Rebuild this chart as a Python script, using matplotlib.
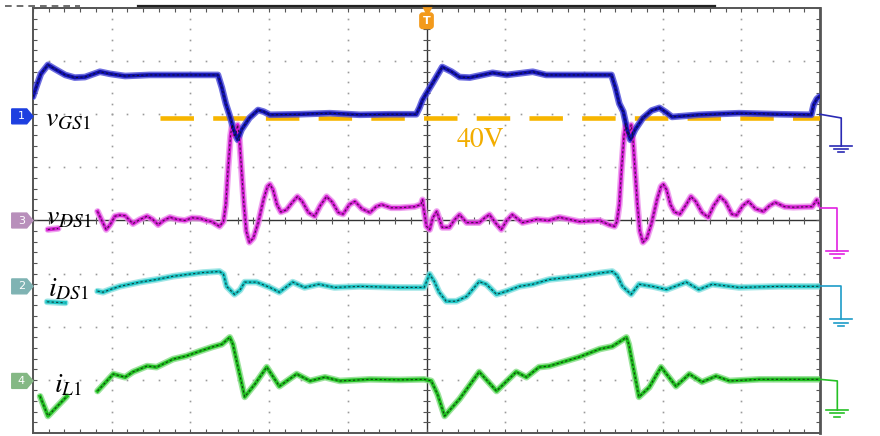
import numpy as np
import matplotlib
matplotlib.use("Agg")
import matplotlib.pyplot as plt
from matplotlib.patches import Polygon
from matplotlib.collections import LineCollection
from matplotlib.lines import Line2D

plt.rcParams['mathtext.fontset'] = 'stix'

# ---------------- scope traces (time in div, amplitude in div) ----------------
vgs_t = [0.00, 0.05, 0.10, 0.19, 0.28, 0.41, 0.53, 0.66, 0.85, 0.98, 1.17, 1.48, 1.87, 2.35,
         2.40, 2.45, 2.50, 2.55, 2.60, 2.65, 2.75, 2.86, 2.93, 3.01, 3.39, 3.77, 4.15, 4.53, 4.87,
         4.91, 4.95, 5.01, 5.08, 5.20, 5.32, 5.42, 5.55, 5.84, 6.02, 6.35, 6.52, 6.94, 7.35,
         7.40, 7.45, 7.50, 7.55, 7.59, 7.65, 7.75, 7.86, 7.96, 8.05, 8.12, 8.46, 8.97, 9.48, 9.89,
         9.92, 9.96, 9.99]
vgs_v = [2.33, 2.55, 2.76, 2.93, 2.85, 2.74, 2.69, 2.70, 2.80, 2.76, 2.72, 2.74, 2.74, 2.74,
         2.50, 2.20, 1.97, 1.71, 1.52, 1.71, 1.93, 2.08, 2.05, 1.99, 2.00, 2.02, 1.99, 2.00, 2.00,
         2.12, 2.27, 2.42, 2.59, 2.89, 2.80, 2.70, 2.69, 2.78, 2.74, 2.80, 2.74, 2.74, 2.74,
         2.50, 2.20, 2.05, 1.71, 1.52, 1.71, 1.93, 2.07, 2.12, 2.03, 1.95, 1.99, 2.02, 2.00, 1.99,
         2.18, 2.29, 2.33]

vds_t = [0.82, 0.88, 0.93, 0.98, 1.04, 1.10, 1.17, 1.27, 1.36, 1.45, 1.52, 1.59, 1.66, 1.74,
         1.83, 1.93, 2.02, 2.12, 2.20, 2.27, 2.37, 2.42,
         2.45, 2.48, 2.51, 2.53, 2.555, 2.58, 2.60, 2.62, 2.65, 2.68, 2.71, 2.75,
         2.80, 2.86, 2.93, 2.98, 3.01, 3.05, 3.10, 3.15, 3.22, 3.30, 3.36, 3.42, 3.50, 3.58,
         3.65, 3.73, 3.80, 3.88, 3.94, 4.02, 4.09, 4.18, 4.28, 4.36, 4.43, 4.55, 4.66, 4.85,
         4.93, 4.95, 4.97, 5.00, 5.04, 5.08, 5.13, 5.17, 5.20, 5.29, 5.36, 5.42, 5.51, 5.67,
         5.74, 5.80, 5.88, 5.95, 6.02, 6.09, 6.22, 6.40, 6.55, 6.69, 6.94, 7.20, 7.32, 7.39, 7.42,
         7.45, 7.48, 7.51, 7.53, 7.555, 7.58, 7.60, 7.62, 7.65, 7.68, 7.71, 7.75,
         7.80, 7.86, 7.93, 7.98, 8.01, 8.05, 8.10, 8.15, 8.22, 8.30, 8.36, 8.42, 8.50, 8.58,
         8.65, 8.73, 8.80, 8.88, 8.94, 9.02, 9.09, 9.18, 9.28, 9.36, 9.43, 9.55, 9.66, 9.85,
         9.90, 9.96, 9.99]
vds_v = [0.17, -0.02, -0.17, -0.08, 0.08, 0.10, 0.09, -0.06, 0.02, 0.08, 0.02, -0.08, 0.00, 0.06,
         0.02, 0.00, 0.05, 0.04, 0.00, -0.02, -0.11, -0.02,
         0.30, 1.00, 1.60, 1.80, 1.60, 1.65, 1.80, 1.60, 0.96, 0.30, -0.20, -0.41,
         -0.33, -0.05, 0.40, 0.64, 0.68, 0.58, 0.30, 0.16, 0.20, 0.35, 0.45, 0.36, 0.15, 0.08,
         0.28, 0.45, 0.35, 0.15, 0.12, 0.30, 0.36, 0.22, 0.15, 0.26, 0.30, 0.24, 0.24, 0.26,
         0.30, 0.39, 0.17, -0.11, -0.17, 0.05, 0.17, 0.00, -0.13, -0.13, 0.02, 0.11, -0.04, -0.04,
         0.05, 0.11, -0.05, -0.17, 0.00, 0.11, -0.04, 0.02, 0.00, 0.06, -0.02, 0.00, -0.08, -0.11, -0.02,
         0.30, 1.00, 1.60, 1.80, 1.60, 1.65, 1.80, 1.60, 0.96, 0.30, -0.20, -0.41,
         -0.33, -0.05, 0.40, 0.64, 0.68, 0.58, 0.30, 0.16, 0.12, 0.30, 0.45, 0.36, 0.15, 0.06,
         0.28, 0.45, 0.35, 0.12, 0.10, 0.28, 0.36, 0.22, 0.17, 0.28, 0.34, 0.26, 0.25, 0.26,
         0.26, 0.39, 0.30]

ids_t = [0.82, 0.89, 0.98, 1.10, 1.36, 1.57, 1.78, 1.99, 2.16, 2.37, 2.42, 2.46, 2.56, 2.63,
         2.69, 2.84, 3.01, 3.13, 3.30, 3.45, 3.63, 3.83, 4.15, 4.66, 4.97, 5.04, 5.10, 5.16,
         5.25, 5.38, 5.51, 5.67, 5.76, 5.89, 6.02, 6.18, 6.35, 6.56, 6.94, 7.20, 7.36, 7.42,
         7.49, 7.60, 7.70, 7.87, 8.05, 8.30, 8.46, 8.63, 8.97, 9.48, 9.99]
ids_v = [-1.33, -1.35, -1.30, -1.24, -1.16, -1.11, -1.05, -1.01, -0.98, -0.96, -1.01, -1.24, -1.39, -1.31,
         -1.16, -1.16, -1.26, -1.35, -1.16, -1.26, -1.20, -1.26, -1.24, -1.26, -1.26, -1.01, -1.15, -1.35,
         -1.52, -1.52, -1.43, -1.15, -1.20, -1.39, -1.33, -1.24, -1.20, -1.11, -1.05, -0.99, -0.96, -1.03,
         -1.24, -1.39, -1.20, -1.24, -1.30, -1.16, -1.30, -1.20, -1.26, -1.24, -1.24]

il_t = [0.82, 1.02, 1.17, 1.27, 1.45, 1.57, 1.78, 1.95, 2.12, 2.28, 2.40, 2.50, 2.54, 2.69,
        2.82, 2.97, 3.13, 3.35, 3.52, 3.71, 3.90, 4.28, 4.66, 4.97, 5.06, 5.14, 5.23, 5.42,
        5.67, 5.89, 6.14, 6.27, 6.43, 6.56, 6.94, 7.20, 7.36, 7.54, 7.57, 7.70, 7.83, 7.98,
        8.17, 8.34, 8.50, 8.68, 8.85, 9.23, 9.99]
il_v = [-3.21, -2.89, -2.95, -2.85, -2.74, -2.76, -2.61, -2.55, -2.46, -2.38, -2.33, -2.20, -2.33, -3.32,
        -3.08, -2.76, -3.12, -2.89, -3.02, -2.95, -3.02, -2.99, -3.00, -2.99, -3.02, -3.27, -3.68, -3.36,
        -2.85, -3.21, -2.85, -2.95, -2.76, -2.74, -2.57, -2.42, -2.37, -2.20, -2.33, -3.32, -3.14, -2.76,
        -3.12, -2.89, -3.04, -2.93, -3.02, -2.99, -2.99]

# small pieces of trace left visible next to the labels
vds_frag_t, vds_frag_v = [0.19, 0.32], [-0.17, -0.15]
ids_frag_t, ids_frag_v = [0.18, 0.41], [-1.53, -1.55]
il_frag_t, il_frag_v = [0.09, 0.19, 0.43], [-3.31, -3.68, -3.31]

threshold_v = 1.93          # 40 V reference level
threshold_start = 1.61

labels = [r'$v_{GS1}$', r'$v_{DS1}$', r'$i_{DS1}$', r'$i_{L1}$']
label_t = [0.15, 0.17, 0.19, 0.27]
label_v = [1.78, -0.08, -1.43, -3.23]

ch_names = ['1', '3', '2', '4']
ch_level = [1.96, 0.0, -1.24, -3.02]
ch_fill = ['#1d3fe0', '#b88fbb', '#7fb3b3', '#84b884']

gnd_start = [2.00, 0.24, -1.24, -2.99]
gnd_corner = [1.93, 0.24, -1.24, -3.02]
gnd_x = [10.27, 10.22, 10.27, 10.22]
gnd_bottom = [1.40, -0.58, -1.86, -3.57]
gnd_color = ['#2a2ab4', '#e020e0', '#1e9cc8', '#25c025']

# ------------------------------------------------------------------------------
fig = plt.figure(figsize=(8.8, 4.36), dpi=100)
ax = fig.add_axes([33 / 880, 3 / 436, 787 / 880, 425 / 436])
ax.set_xlim(0, 10)
ax.set_ylim(-4, 4)
ax.set_xticks([])
ax.set_yticks([])
for s in ax.spines.values():
    s.set_color('#555555')
    s.set_linewidth(1.4)
ax.spines['right'].set_linewidth(2.0)

# graticule dots
fine_t = np.arange(0, 10.01, 0.2)
fine_v = np.arange(-4, 4.01, 0.2)
for gx in [1, 2, 3, 4, 6, 7, 8, 9]:
    ax.plot(np.full_like(fine_v, gx), fine_v, ls='none', marker='s', ms=1.2, color='#9a9a9a', mew=0)
for gy in [-3, -2, -1, 1, 2, 3]:
    ax.plot(fine_t, np.full_like(fine_t, gy), ls='none', marker='s', ms=1.2, color='#9a9a9a', mew=0)

# centre lines with ticks
ax.axvline(5, color='#333333', lw=1.0, zorder=2)
ax.axhline(0, color='#333333', lw=1.0, zorder=2)
segs = [[(5 - 0.04, v), (5 + 0.04, v)] for v in fine_v]
segs += [[(t, -0.06), (t, 0.06)] for t in fine_t]
# border ticks
segs += [[(0, v), (0.05, v)] for v in fine_v] + [[(10, v), (9.95, v)] for v in fine_v]
segs += [[(t, 4), (t, 3.93)] for t in fine_t] + [[(t, -4), (t, -3.93)] for t in fine_t]
ax.add_collection(LineCollection(segs, colors='#555555', linewidths=0.8, zorder=2))

# threshold line
ax.plot([threshold_start, 10], [threshold_v, threshold_v], color='#f7b500', lw=3.3,
        ls=(0, (7.3, 4.2)), zorder=3)
ax.text(5.69, 1.50, '40V', color='#f2ad00', fontsize=20, family='STIXGeneral',
        ha='center', va='center', zorder=6)


def trace(t, v, core, halo):
    ax.plot(t, v, color=halo, lw=4.8, alpha=0.8, solid_capstyle='round', solid_joinstyle='round', zorder=4)
    ax.plot(t, v, color=core, lw=2.6, solid_joinstyle='round', zorder=5)
    ax.plot(t, v, color='#111111', lw=0.8, ls=(0, (2, 2)), alpha=0.75, zorder=6)


trace(il_t, il_v, '#1fbf1f', '#86dc86')
trace(il_frag_t, il_frag_v, '#1fbf1f', '#86dc86')
trace(ids_t, ids_v, '#1cc3c3', '#8be0e0')
trace(ids_frag_t, ids_frag_v, '#1cc3c3', '#8be0e0')
trace(vds_t, vds_v, '#d31fd3', '#eb8eeb')
trace(vds_frag_t, vds_frag_v, '#d31fd3', '#eb8eeb')
trace(vgs_t, vgs_v, '#1010b0', '#4848d8')

for lab, lt, lv in zip(labels, label_t, label_v):
    ax.text(lt, lv, lab, fontsize=20, color='black', ha='left', va='baseline', zorder=7)

# channel markers on the left edge
for name, lv, fc in zip(ch_names, ch_level, ch_fill):
    poly = Polygon([(-0.27, lv + 0.14), (-0.08, lv + 0.14), (0.0, lv), (-0.08, lv - 0.14),
                    (-0.27, lv - 0.14)], closed=True, fc=fc, ec=fc, clip_on=False, zorder=7)
    ax.add_patch(poly)
    ax.text(-0.15, lv, name, color='white', fontsize=8, ha='center', va='center',
            clip_on=False, zorder=8)

# ground references on the right edge
for s0, c0, gx, gb, col in zip(gnd_start, gnd_corner, gnd_x, gnd_bottom, gnd_color):
    ax.plot([10, gx, gx], [s0, c0, gb], color=col, lw=1.2, clip_on=False, zorder=7)
    for k, hw in enumerate([0.14, 0.09, 0.04]):
        ax.plot([gx - hw, gx + hw], [gb - 0.06 * k, gb - 0.06 * k], color=col, lw=1.2,
                clip_on=False, zorder=7)

# trigger marker
ax.plot([5], [3.96], marker='v', ms=7, color='#f39a1b', clip_on=False, zorder=8)
ax.text(5, 3.76, 'T', color='white', fontsize=8, fontweight='bold', ha='center', va='center',
        bbox=dict(boxstyle='round,pad=0.25', fc='#f39a1b', ec='#f39a1b'), zorder=8)

# record bar above the screen
fig.add_artist(Line2D([5 / 880, 80 / 880], [1 - 6 / 436, 1 - 6 / 436], color='#555555', lw=1.2,
                      ls=(0, (4, 3))))
fig.add_artist(Line2D([138 / 880, 715 / 880], [1 - 6 / 436, 1 - 6 / 436], color='#222222', lw=1.6))

fig.savefig('out.png', dpi=100)
